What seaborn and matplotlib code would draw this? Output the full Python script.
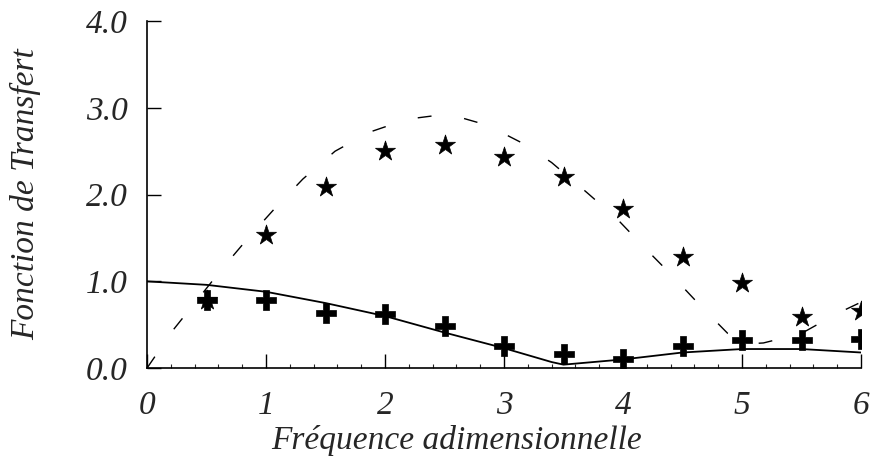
import matplotlib
matplotlib.use("Agg")
import matplotlib.pyplot as plt
import seaborn as sns
import pandas as pd
import numpy as np
from matplotlib.ticker import MultipleLocator

# --- data ---
star_x = [0.5, 1.0, 1.5, 2.0, 2.5, 3.0, 3.5, 4.0, 4.5, 5.0, 5.5, 6.0]
star_y = [0.78, 1.53, 2.09, 2.50, 2.57, 2.43, 2.20, 1.83, 1.28, 0.98, 0.59, 0.66]

plus_x = [0.5, 1.0, 1.5, 2.0, 2.5, 3.0, 3.5, 4.0, 4.5, 5.0, 5.5, 6.0]
plus_y = [0.78, 0.78, 0.63, 0.62, 0.48, 0.26, 0.16, 0.11, 0.26, 0.32, 0.32, 0.34]

solid_x = [0.0, 0.5, 1.0, 1.5, 2.0, 2.5, 3.0, 3.4, 3.5, 4.0, 4.5, 5.0, 5.5, 6.0]
solid_y = [1.00, 0.96, 0.88, 0.75, 0.60, 0.41, 0.23, 0.07, 0.04, 0.10, 0.18, 0.22, 0.22, 0.18]

dash_x = [0.0, 0.22, 0.64, 0.85, 1.08, 1.31, 1.58, 1.87, 2.19, 2.53, 2.86, 3.16,
          3.40, 3.70, 3.95, 4.18, 4.41, 4.65, 4.88, 5.05, 5.18, 5.50, 5.80, 6.0]
dash_y = [0.0, 0.44, 1.16, 1.50, 1.85, 2.18, 2.50, 2.72, 2.87, 2.93, 2.80, 2.59,
          2.37, 2.02, 1.72, 1.39, 1.07, 0.72, 0.40, 0.28, 0.29, 0.40, 0.63, 0.76]

x_ticks = [0, 1, 2, 3, 4, 5, 6]
x_ticklabels = ["0", "1", "2", "3", "4", "5", "6"]
y_ticks = [0.0, 1.0, 2.0, 3.0, 4.0]
y_ticklabels = ["0.0", "1.0", "2.0", "3.0", "4.0"]
x_label = "Fréquence adimensionnelle"
y_label = "Fonction de Transfert"

sns.set_style("ticks")
plt.rcParams["font.family"] = ["Liberation Serif", "DejaVu Serif"]

FS = 24

fig = plt.figure(figsize=(8.75, 4.59), dpi=100)
ax = fig.add_axes([0.168, 0.198, 0.816, 0.756])

sns.lineplot(x=solid_x, y=solid_y, ax=ax, color="black", linewidth=1.3,
             sort=False, estimator=None)
sns.lineplot(x=dash_x, y=dash_y, ax=ax, color="black", linewidth=1.0,
             linestyle=(0, (10, 24)), sort=False, estimator=None)
sns.scatterplot(x=star_x, y=star_y, ax=ax, marker="*", s=230, color="black",
                edgecolor="black", linewidth=0.5, zorder=5)
sns.scatterplot(x=plus_x, y=plus_y, ax=ax, marker="P", s=200, color="black",
                edgecolor="black", linewidth=0.5, zorder=5)

ax.set_xlim(0, 6)
ax.set_ylim(0, 4)
for s in ["top", "right"]:
    ax.spines[s].set_visible(False)
for s in ["left", "bottom"]:
    ax.spines[s].set_linewidth(1.2)
    ax.spines[s].set_color("black")

ax.set_xticks(x_ticks)
ax.set_xticklabels(x_ticklabels, fontsize=FS, style="italic")
ax.set_yticks(y_ticks)
ax.set_yticklabels(y_ticklabels, fontsize=FS, style="italic")
ax.xaxis.set_minor_locator(MultipleLocator(0.2))
ax.tick_params(axis="both", which="major", direction="in", length=10, width=1.0,
               color="black")
ax.tick_params(axis="x", which="major", pad=16)
ax.tick_params(axis="y", which="major", pad=14)
ax.tick_params(axis="x", which="minor", direction="in", length=3, width=0.8)

ax.set_xlabel(x_label, fontsize=FS, style="italic", labelpad=3)
ax.xaxis.label.set_x(0.434)
ax.set_ylabel(y_label, fontsize=FS, style="italic", labelpad=32)

fig.savefig("out.png", dpi=100, facecolor="white")
